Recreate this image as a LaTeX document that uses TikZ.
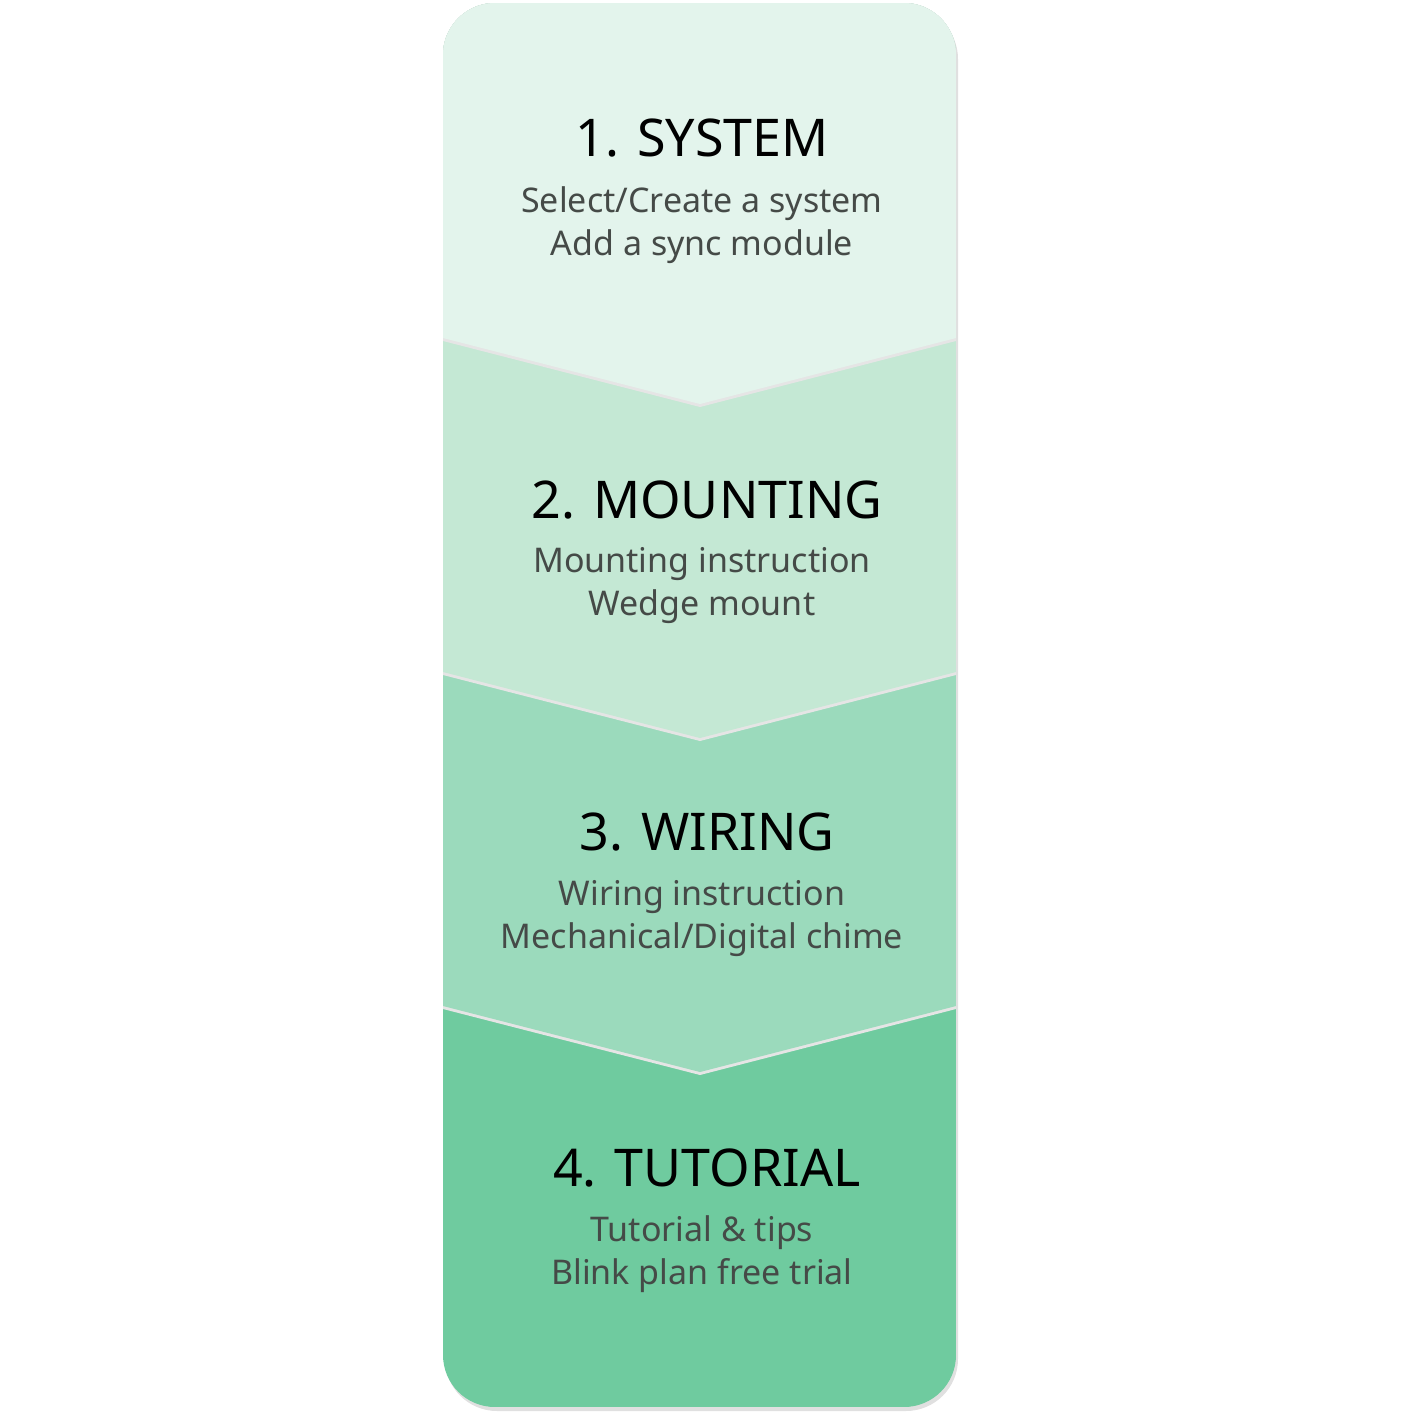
\documentclass[tikz,border=0pt]{standalone}
\usepackage{fontspec}
\setmainfont{Noto Sans}
\definecolor{cA}{HTML}{E3F4EC}
\definecolor{cB}{HTML}{C4E8D4}
\definecolor{cC}{HTML}{9BDABC}
\definecolor{cD}{HTML}{6FCB9F}
\definecolor{txt}{HTML}{454A47}
\begin{document}
\begin{tikzpicture}[x=1pt,y=-1pt,
  title/.style={font=\fontsize{52}{60}\selectfont\bfseries,text=black,anchor=center},
  body/.style={font=\fontsize{34}{43}\selectfont,text=txt,align=center,anchor=center}]
\useasboundingbox (0,0) rectangle (1404,1414);
\fill[black!12,rounded corners=52] (445,7) rectangle (958,1411);
\begin{scope}
\clip[rounded corners=52] (443,3) rectangle (956,1407);
\fill[cD] (443,3) rectangle (956,1407);
\fill[black!10] (443,3) -- (956,3) -- (956,1009) -- (700,1075) -- (443,1009) -- cycle;
\fill[cC] (443,3) -- (956,3) -- (956,1006) -- (700,1072) -- (443,1006) -- cycle;
\fill[black!10] (443,3) -- (956,3) -- (956,675) -- (700,741) -- (443,675) -- cycle;
\fill[cB] (443,3) -- (956,3) -- (956,672) -- (700,738) -- (443,672) -- cycle;
\fill[black!10] (443,3) -- (956,3) -- (956,341) -- (700,407) -- (443,341) -- cycle;
\fill[cA] (443,3) -- (956,3) -- (956,338) -- (700,404) -- (443,338) -- cycle;
\end{scope}
\node[title] (t1) at (702,138) {1. SYSTEM};
\node[body] (b1) at (702,225) {Select/Create a system\\Add a sync module};
\node[title] (t2) at (707,500) {2. MOUNTING};
\node[body] (b2) at (702,586) {Mounting instruction\\Wedge mount};
\node[title] (t3) at (707,832) {3. WIRING};
\node[body] (b3) at (702,919) {Wiring instruction\\Mechanical/Digital chime};
\node[title] (t4) at (707,1168) {4. TUTORIAL};
\node[body] (b4) at (702,1254) {Tutorial \& tips\\Blink plan free trial};
\end{tikzpicture}
\end{document}
